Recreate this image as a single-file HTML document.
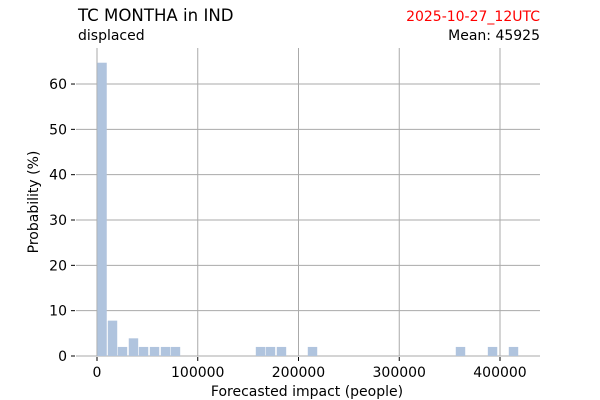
<!DOCTYPE html>
<html><head><meta charset="utf-8"><style>
body{margin:0;background:#fff;}
svg{display:block;font-family:"DejaVu Sans",sans-serif;}
</style></head><body>
<svg id="chart" width="600" height="400">
<text x="78" y="21" font-size="16.6" fill="#000">TC MONTHA in IND</text>
<text x="540" y="21" font-size="14" fill="#ff0000" text-anchor="end">2025-10-27_12UTC</text>
<text x="78" y="40" font-size="14" fill="#000">displaced</text>
<text x="540" y="40" font-size="14" fill="#000" text-anchor="end">Mean: 45925</text>
<g id="grid"></g><g id="bars"></g><g id="axes"></g>
<text x="307" y="396" font-size="14" text-anchor="middle">Forecasted impact (people)</text>
<text transform="translate(38,202) rotate(-90)" font-size="14" text-anchor="middle">Probability (%)</text>
</svg>
<script>
const binCenters=[5000,15400,25300,36200,46200,57100,68000,77900,162300,172200,183100,213900,360800,392600,413400];
const probs=[64.7,7.8,2.0,3.9,2.0,2.0,2.0,2.0,2.0,2.0,2.0,2.0,2.0,2.0,2.0];
const binWidth=10350;
const xTicks=[0,100000,200000,300000,400000];
const yTicks=[0,10,20,30,40,50,60];
const NS="http://www.w3.org/2000/svg";
const L=76,R=540,T=48,B=356;
const x=v=>97+v*0.0010075;
const y=v=>356-v*4.533;
function mk(tag,at,parent){const e=document.createElementNS(NS,tag);for(const k in at)e.setAttribute(k,at[k]);document.getElementById(parent).appendChild(e);return e;}
yTicks.forEach(t=>{
 const g=mk('line',{x1:L,x2:R,y1:y(t),y2:y(t),stroke:'#aaaaaa','stroke-width':1},'grid');
 
 
 const tk=mk('line',{x1:L-5,x2:L-1,y1:y(t),y2:y(t),stroke:'#000'},'axes');
 
 
 const tx=mk('text',{x:L-9,y:y(t)+5,'font-size':14,'text-anchor':'end'},'axes');
 tx.textContent=t;
 
 
});
xTicks.forEach(t=>{
 const g=mk('line',{x1:x(t),x2:x(t),y1:T,y2:B,stroke:'#aaaaaa','stroke-width':1},'grid');
 
 
 const tk=mk('line',{x1:x(t),x2:x(t),y1:B+1,y2:B+5,stroke:'#000'},'axes');
 
 
 const tx=mk('text',{x:x(t),y:B+21,'font-size':14,'text-anchor':'middle'},'axes');
 tx.textContent=t;
 
 
});
binCenters.forEach((c,i)=>{
 const x0=x(c-binWidth/2),x1=x(c+binWidth/2);
 const r=mk('rect',{x:x0+0.5,y:y(probs[i]),width:x1-x0-1,height:y(0)-y(probs[i]),fill:'#b0c4de'},'bars');
 
 
});
</script>
</body></html>
